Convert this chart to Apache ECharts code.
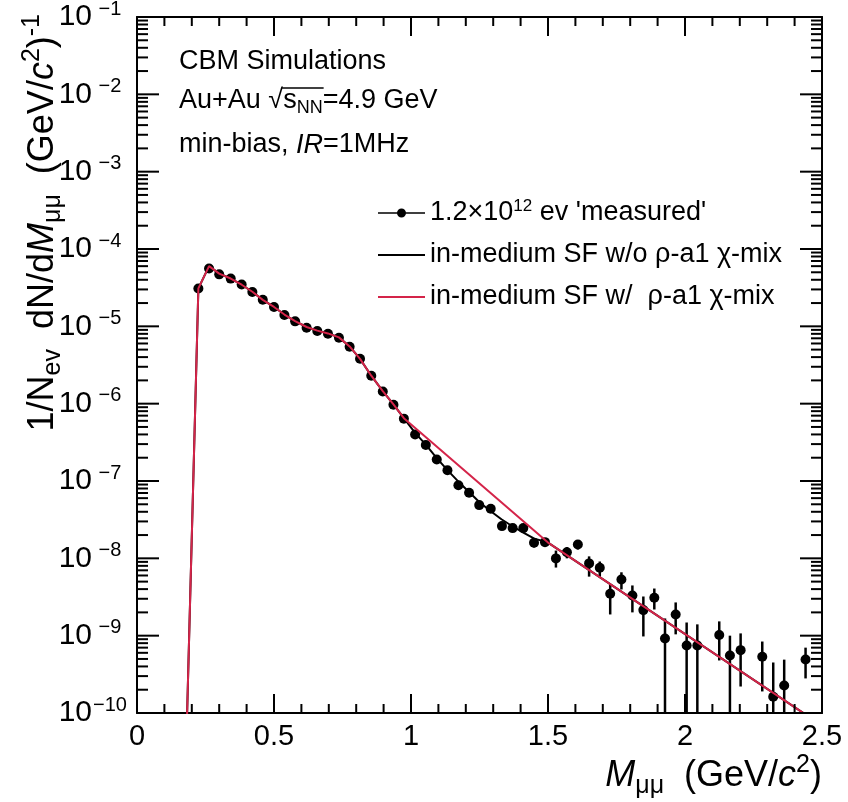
<!DOCTYPE html>
<html>
<head>
<meta charset="utf-8">
<script src="https://cdn.jsdelivr.net/npm/echarts@6/dist/echarts.min.js"></script>
<style>
html, body { margin: 0; padding: 0; background: #fff; }
#chart { width: 848px; height: 802px; }
</style>
</head>
<body>
<div id="chart"></div>
<script>
// Dimuon invariant-mass spectrum, Au+Au at sqrt(s_NN) = 4.9 GeV
const massPoints = [0.224, 0.263, 0.300, 0.342, 0.382, 0.421, 0.459, 0.500, 0.538, 0.577,
  0.619, 0.658, 0.697, 0.737, 0.776, 0.814, 0.855, 0.897, 0.936, 0.974,
  1.015, 1.054, 1.094, 1.133, 1.173, 1.212, 1.249, 1.291, 1.332, 1.371,
  1.410, 1.449, 1.489, 1.529, 1.569, 1.609, 1.650, 1.689, 1.727, 1.768,
  1.808, 1.848, 1.888, 1.927, 1.966, 2.006, 2.045, 2.125, 2.164, 2.203,
  2.282, 2.322, 2.362, 2.440];
const yieldPoints = [3.08e-5, 5.6e-5, 4.7e-5, 4.14e-5, 3.47e-5, 2.78e-5, 2.21e-5, 1.78e-5, 1.40e-5, 1.16e-5,
  9.6e-6, 8.7e-6, 8.0e-6, 7.1e-6, 5.45e-6, 3.8e-6, 2.3e-6, 1.44e-6, 9.7e-7, 6.4e-7,
  4.0e-7, 2.92e-7, 1.9e-7, 1.38e-7, 8.8e-8, 7.06e-8, 4.88e-8, 4.38e-8, 2.61e-8, 2.46e-8,
  2.46e-8, 1.59e-8, 1.62e-8, 9.98e-9, 1.2e-8, 1.51e-8, 8.6e-9, 7.55e-9, 3.48e-9, 5.33e-9,
  3.31e-9, 2.14e-9, 3.09e-9, 9.2e-10, 1.88e-9, 7.46e-10, 7.46e-10, 1.02e-9, 5.55e-10, 6.5e-10,
  5.33e-10, 1.62e-10, 2.27e-10, 4.92e-10];
// error band edges (null: hidden under the marker, 0: reaches down past the axis)
const yieldLow = [null, null, null, null, null, null, null, null, null, null,
  null, null, null, null, null, null, null, null, null, null,
  null, null, null, null, null, null, null, null, null, null,
  null, 1.38e-8, 1.45e-8, 7.6e-9, 1.0e-8, 1.3e-8, 5.8e-9, 5.8e-9, 1.88e-9, 3.96e-9,
  2.0e-9, 9.77e-10, 2.18e-9, 0, 1.04e-9, 0, 0, 4.78e-10, 0, 2.2e-10,
  1.9e-10, 0, 0, 2.8e-10];
const yieldHigh = [null, null, null, null, null, null, null, null, null, null,
  null, null, null, null, null, null, null, null, null, null,
  null, null, null, null, null, null, null, null, null, null,
  null, 1.8e-8, 1.8e-8, 1.26e-8, 1.4e-8, 1.72e-8, 1.06e-8, 9.1e-9, 4.6e-9, 6.6e-9,
  4.46e-9, 3.21e-9, 4.07e-9, 1.67e-9, 2.69e-9, 1.48e-9, 1.4e-9, 1.53e-9, 1.0e-9, 1.07e-9,
  8.4e-10, 4.5e-10, 4.9e-10, 7.0e-10];

// in-medium spectral function, no rho-a1 chiral mixing
const massNoMix = [0.18, 0.224, 0.263, 0.300, 0.342, 0.382, 0.421, 0.459, 0.500, 0.538,
  0.577, 0.619, 0.658, 0.697, 0.737, 0.776, 0.814, 0.855, 0.897, 0.936,
  0.974, 1.015, 1.054, 1.094, 1.133, 1.173, 1.212, 1.250, 1.290, 1.330,
  1.370, 1.410, 1.450, 1.500, 2.500];
const yieldNoMix = [4e-11, 3.1e-5, 6.0e-5, 4.8e-5, 4.15e-5, 3.45e-5, 2.8e-5, 2.2e-5, 1.78e-5, 1.42e-5,
  1.17e-5, 9.8e-6, 8.8e-6, 8.1e-6, 7.2e-6, 5.5e-6, 3.8e-6, 2.3e-6, 1.45e-6, 9.8e-7,
  6.5e-7, 4.2e-7, 2.95e-7, 1.98e-7, 1.38e-7, 9.8e-8, 7.2e-8, 5.3e-8, 4.1e-8, 3.2e-8,
  2.6e-8, 2.15e-8, 1.8e-8, 1.6e-8, 6.9e-11];

// in-medium spectral function with rho-a1 chiral mixing
const massMix = [0.18, 0.224, 0.263, 0.300, 0.342, 0.382, 0.421, 0.459, 0.500, 0.538,
  0.577, 0.619, 0.658, 0.697, 0.737, 0.776, 0.814, 0.855, 0.897, 0.936,
  0.974, 1.500, 2.500];
const yieldMix = [4e-11, 3.1e-5, 6.0e-5, 4.8e-5, 4.15e-5, 3.45e-5, 2.8e-5, 2.2e-5, 1.78e-5, 1.42e-5,
  1.17e-5, 9.8e-6, 8.8e-6, 8.1e-6, 7.2e-6, 5.5e-6, 3.8e-6, 2.3e-6, 1.45e-6, 9.8e-7,
  6.5e-7, 1.6e-8, 6.9e-11];

const xTickLabels = ['0', '0.5', '1', '1.5', '2', '2.5'];
const yDecadeExponents = [-10, -9, -8, -7, -6, -5, -4, -3, -2, -1];

const NAME_MEAS = "1.2x10^12 ev 'measured'";
const NAME_NOMIX = 'in-medium SF w/o rho-a1 chi-mix';
const NAME_MIX = 'in-medium SF w/ rho-a1 chi-mix';
const legendText = {};
legendText[NAME_MEAS] = "1.2×10{sup|12} ev 'measured'";
legendText[NAME_NOMIX] = 'in-medium SF w/o ρ-a1 χ-mix';
legendText[NAME_MIX] = 'in-medium SF w/  ρ-a1 χ-mix';

const FONT = '"Liberation Sans", Arial, Helvetica, sans-serif';
const RED = '#d42449';

const chart = echarts.init(document.getElementById('chart'), null, { renderer: 'canvas' });

function xAxisCfg(pos, labels) {
  return {
    type: 'value', position: pos, min: 0, max: 2.5, interval: 0.5,
    axisLine: { show: true, onZero: false, lineStyle: { color: '#000', width: 2 } },
    axisTick: { show: false },
    minorTick: { show: false },
    splitLine: { show: false },
    axisLabel: {
      show: labels, margin: 9, color: '#000', fontFamily: FONT, fontSize: 29,
      formatter: v => xTickLabels[Math.round(v / 0.5)]
    }
  };
}
function yAxisCfg(pos, labels) {
  return {
    type: 'log', logBase: 10, position: pos, min: 1e-10, max: 1e-1, splitNumber: 9,
    axisLine: { show: true, onZero: false, lineStyle: { color: '#000', width: 2 } },
    axisTick: { show: false },
    minorTick: { show: false },
    splitLine: { show: false },
    axisLabel: {
      show: labels, margin: 9, color: '#000', fontFamily: FONT, fontSize: 30,
      formatter: v => {
        const e = Math.round(Math.log10(v));
        if (yDecadeExponents.indexOf(e) < 0) return '';
        return '{b|10}{sup|−' + Math.abs(e) + '}';
      },
      rich: {
        b: { fontFamily: FONT, fontSize: 30, lineHeight: 36, color: '#000' },
        sup: { fontFamily: FONT, fontSize: 20, lineHeight: 20, width: 36, align: 'left', verticalAlign: 'top', color: '#000' }
      }
    }
  };
}

// canvas text measuring, used to place the overline of sqrt(s_NN)
const mctx = document.createElement('canvas').getContext('2d');
function textWidth(str, size) {
  mctx.font = size + 'px ' + FONT;
  return mctx.measureText(str).width;
}
const annX = 179;
const ANN_SIZE = 27;
const rootStart = annX + textWidth('Au+Au √', ANN_SIZE);
const rootEnd = rootStart + textWidth('s', ANN_SIZE) + textWidth('NN', 18);

const titleRich = {
  n: { fontFamily: FONT, fontSize: 36, lineHeight: 46, color: '#000' },
  i: { fontFamily: FONT, fontSize: 36, lineHeight: 46, fontStyle: 'italic', color: '#000' },
  sub: { fontFamily: FONT, fontSize: 25, lineHeight: 25, verticalAlign: 'bottom', color: '#000' },
  sup: { fontFamily: FONT, fontSize: 25, lineHeight: 25, verticalAlign: 'top', color: '#000' }
};

const textGraphics = [
  {
    type: 'text', x: annX, y: 62,
    style: { text: 'CBM Simulations', font: ANN_SIZE + 'px ' + FONT, fill: '#000', verticalAlign: 'middle' }
  },
  {
    type: 'text', x: annX, y: 101,
    style: {
      text: '{n|Au+Au √s}{sub|NN}{n|=4.9 GeV}', verticalAlign: 'middle', fill: '#000',
      rich: {
        n: { fontFamily: FONT, fontSize: ANN_SIZE, lineHeight: 32, color: '#000' },
        sub: { fontFamily: FONT, fontSize: 18, lineHeight: 18, verticalAlign: 'bottom', color: '#000' }
      }
    }
  },
  {
    type: 'line', shape: { x1: rootStart - 1, y1: 88, x2: rootEnd + 1, y2: 88 },
    style: { stroke: '#000', lineWidth: 1.4 }
  },
  {
    type: 'text', x: annX, y: 145,
    style: {
      text: '{n|min-bias, }{i|IR}{n|=1MHz}', verticalAlign: 'middle', fill: '#000',
      rich: {
        n: { fontFamily: FONT, fontSize: ANN_SIZE, color: '#000' },
        i: { fontFamily: FONT, fontSize: ANN_SIZE, fontStyle: 'italic', color: '#000' }
      }
    }
  },
  {
    // x axis title
    type: 'text', x: 822, y: 776,
    style: {
      text: '{i|M}{sub|μμ}{n|  (GeV/}{i|c}{sup|2}{n|)}', align: 'right', verticalAlign: 'middle', fill: '#000',
      rich: titleRich
    }
  },
  {
    // y axis title, reading upwards, ending at the top of the frame
    type: 'text', x: 43, y: 14, rotation: Math.PI / 2,
    style: {
      text: '{n|1/N}{sub|ev}{n|  dN/d}{i|M}{sub|μμ}{n|  (GeV/}{i|c}{sup|2}{n|)}{sup|-1}',
      align: 'right', verticalAlign: 'middle', fill: '#000',
      rich: titleRich
    }
  }
];

const option = {
  animation: false,
  backgroundColor: '#fff',
  textStyle: { fontFamily: FONT },
  grid: { left: 137, right: 26, top: 17, bottom: 89, containLabel: false, outerBoundsMode: 'none' },
  xAxis: [xAxisCfg('bottom', true), xAxisCfg('top', false)],
  yAxis: [yAxisCfg('left', true), yAxisCfg('right', false)],
  legend: {
    orient: 'vertical', left: 378, top: 198, padding: 0,
    itemWidth: 47, itemHeight: 14, itemGap: 12,
    textStyle: {
      fontFamily: FONT, fontSize: 27, color: '#000', lineHeight: 30,
      rich: { sup: { fontFamily: FONT, fontSize: 17, lineHeight: 17, verticalAlign: 'top', color: '#000' } }
    },
    data: [
      { name: NAME_MEAS, icon: 'path://M0,6.2L47,6.2L47,7.8L0,7.8ZM28,7A4.5,4.5,0,1,1,19,7A4.5,4.5,0,1,1,28,7Z' },
      { name: NAME_NOMIX, icon: 'path://M0,6.1L47,6.1L47,7.9L0,7.9Z' },
      { name: NAME_MIX, icon: 'path://M0,6.1L47,6.1L47,7.9L0,7.9Z' }
    ],
    formatter: name => legendText[name],
    selectedMode: false
  },
  graphic: textGraphics,
  series: [
    {
      name: NAME_MEAS, type: 'scatter', z: 3,
      symbol: 'circle', symbolSize: 10,
      itemStyle: { color: '#000', opacity: 1 },
      data: massPoints.map((m, i) => [m, yieldPoints[i]])
    },
    {
      // vertical error bars of the measured points
      type: 'custom', z: 3, silent: true,
      data: massPoints.map((m, i) => [m, yieldPoints[i], yieldLow[i], yieldHigh[i]])
        .filter(d => d[3] !== null),
      renderItem: (params, api) => {
        const cs = params.coordSys;
        const m = api.value(0);
        const lo = api.value(2);
        const tp = api.coord([m, api.value(3)]);
        const bottomY = lo > 0 ? Math.min(api.coord([m, lo])[1], cs.y + cs.height) : cs.y + cs.height;
        return {
          type: 'line',
          shape: { x1: tp[0], y1: Math.max(tp[1], cs.y), x2: tp[0], y2: bottomY },
          style: { stroke: '#000', lineWidth: 2.5 }
        };
      }
    },
    {
      name: NAME_NOMIX, type: 'line', z: 4, clip: true,
      symbol: 'none', showSymbol: false,
      lineStyle: { color: '#000', width: 2 },
      itemStyle: { color: '#000' },
      data: massNoMix.map((m, i) => [m, yieldNoMix[i]])
    },
    {
      name: NAME_MIX, type: 'line', z: 5, clip: true,
      symbol: 'none', showSymbol: false,
      lineStyle: { color: RED, width: 2 },
      itemStyle: { color: RED },
      data: massMix.map((m, i) => [m, yieldMix[i]])
    }
  ]
};

chart.setOption(option);

// inward tick marks on all four frame edges, placed through the axes' own scales
const toPx = (x, y) => chart.convertToPixel({ gridIndex: 0 }, [x, y]);
const cornerLow = toPx(0, 1e-10);
const cornerHigh = toPx(2.5, 1e-1);
const frameLeft = cornerLow[0], frameRight = cornerHigh[0];
const frameBottom = cornerLow[1], frameTop = cornerHigh[1];
const tickLines = [];
function addTick(x1, y1, x2, y2) {
  tickLines.push({
    type: 'line', z: 100, silent: true,
    shape: { x1: x1, y1: y1, x2: x2, y2: y2 },
    style: { stroke: '#000', lineWidth: 2 }
  });
}
for (let e = -10; e <= -1; e++) {
  for (let k = 1; k <= 9; k++) {
    const v = k * Math.pow(10, e);
    if (v > 0.1000001) break;
    const len = k === 1 ? 22 : 11;
    const y = toPx(1, v)[1];
    addTick(frameLeft, y, frameLeft + len, y);
    addTick(frameRight - len, y, frameRight, y);
  }
}
for (let i = 0; i <= 25; i++) {
  const len = i % 5 === 0 ? 19 : 9;
  const x = toPx(i / 10, 1e-5)[0];
  addTick(x, frameBottom, x, frameBottom - len);
  addTick(x, frameTop, x, frameTop + len);
}
chart.setOption({ graphic: textGraphics.concat(tickLines) });
</script>
</body>
</html>
